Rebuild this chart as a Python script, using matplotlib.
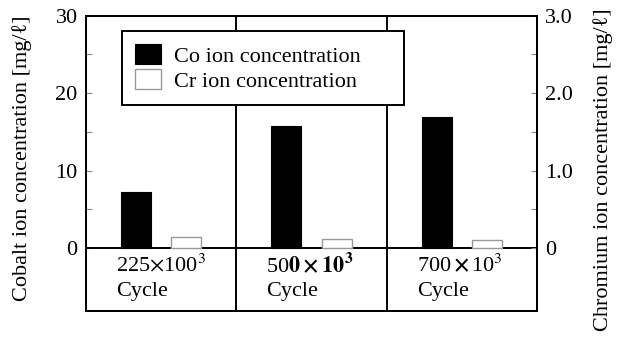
import matplotlib.pyplot as plt
import numpy as np

plt.rcParams['font.family'] = ['Liberation Serif', 'DejaVu Serif']
plt.rcParams['mathtext.fontset'] = 'stix'

cycles = ["225", "500", "700"]
cycle_labels = [r"225$\times$100$^3$", r"50$\mathbf{0\times10^3}$", r"700$\,\mathbf{\times}\,$10$^3$"]
co_conc = [7.2, 15.7, 16.9]      # mg/l, left axis
cr_conc = [0.14, 0.11, 0.10]     # mg/l, right axis

fig = plt.figure(figsize=(6.23, 3.38), dpi=100)
ax = fig.add_axes([0.138, 0.080, 0.724, 0.8736])
ax2 = ax.twinx()

x = np.arange(len(cycles))
w = 0.2
off = 0.167
co_bars = ax.bar(x - off, co_conc, w, color="black", edgecolor="black", linewidth=0.8,
                 label="Co ion concentration")
cr_bars = ax2.bar(x + off, cr_conc, w, color="white", edgecolor="#999999", linewidth=1.0,
                  label="Cr ion concentration")

ax.set_xlim(-0.5, 2.5)
ax.set_ylim(-8.14, 30)
ax2.set_ylim(-0.814, 3.0)

ax.set_yticks([0, 5, 10, 15, 20, 25, 30])
ax.set_yticklabels(["0", "", "10", "", "20", "", "30"])
ax2.set_yticks([0, 0.5, 1.0, 1.5, 2.0, 2.5, 3.0])
ax2.set_yticklabels(["0", "", "1.0", "", "2.0", "", "3.0"])
for a in (ax, ax2):
    a.tick_params(axis="y", direction="in", length=4, width=0.8, color="#888888",
                  labelsize=16, pad=6)
    for s in a.spines.values():
        s.set_linewidth(1.4)
ax.set_xticks([])

# zero line and group dividers
ax.axhline(0, color="black", lw=1.4)
for d in [0.5, 1.5]:
    ax.axvline(d, color="black", lw=1.4)

# cycle labels inside the table row
for i, lab in enumerate(cycle_labels):
    ax.text(i - 0.5 + 0.2, -2.2, lab, fontsize=16, ha="left", va="center")
    ax.text(i - 0.5 + 0.2, -5.6, "Cycle", fontsize=16, ha="left", va="center")

ax.set_ylabel("Cobalt ion concentration [mg/ℓ]", fontsize=16)
ax.yaxis.set_label_coords(-0.12, 0.518)
ax2.set_ylabel("Chromium ion concentration [mg/ℓ]", fontsize=16)
ax2.yaxis.set_label_coords(1.124, 0.477)

leg = ax2.legend(handles=[co_bars, cr_bars], loc="upper left", mode="expand",
                 bbox_to_anchor=(0.0798, 0.711, 0.625, 0.237),
                 fontsize=16, frameon=True, fancybox=False, edgecolor="black", framealpha=1,
                 handlelength=1.15, handleheight=1.0, borderpad=0.6, labelspacing=0.1,
                 handletextpad=0.6, borderaxespad=0)
leg.get_frame().set_linewidth(1.4)

fig.savefig("out.png", dpi=100)
